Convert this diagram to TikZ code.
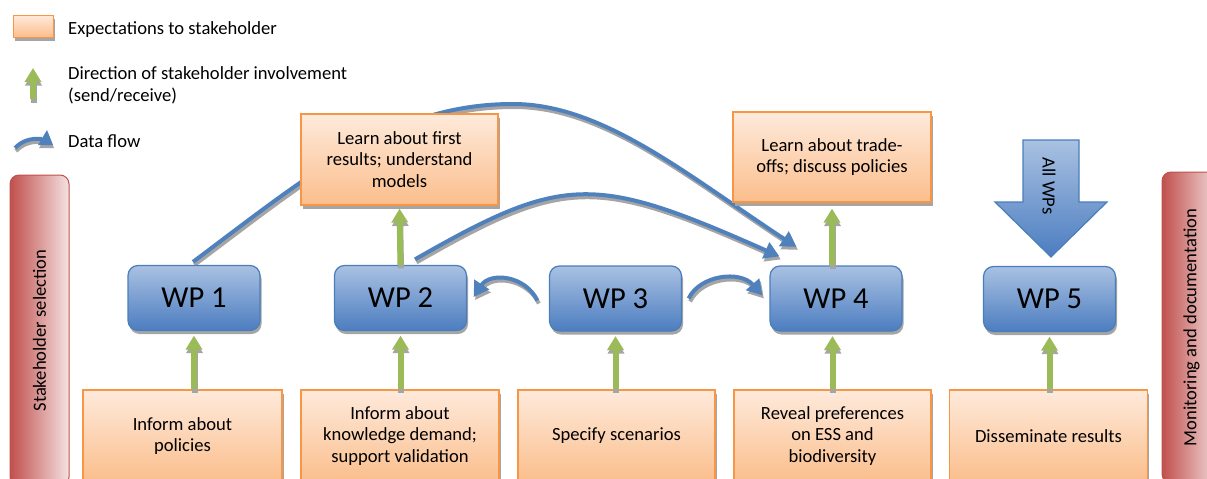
\documentclass[tikz,border=0pt]{standalone}
\usepackage{fontspec}
\setmainfont{Carlito}
\usepackage{graphicx}
\usetikzlibrary{arrows.meta,shadows,backgrounds}
\definecolor{obord}{HTML}{F79646}
\definecolor{otop}{HTML}{FEEADB}
\definecolor{obot}{HTML}{FBBE8C}
\definecolor{wtop}{HTML}{A9C1E2}
\definecolor{wbot}{HTML}{4C7DC0}
\definecolor{wbord}{HTML}{4A7EBB}
\definecolor{flowblue}{HTML}{4F81BD}
\definecolor{shgray}{HTML}{A5A5A5}
\definecolor{invgreen}{HTML}{9BBB59}
\definecolor{rleft}{HTML}{C0504D}
\definecolor{rright}{HTML}{F4E2E2}
\tikzset{
  txt/.style={font=\fontsize{18.6}{21.7}\selectfont},
  boxshadow/.style={drop shadow={shadow xshift=1.5pt,shadow yshift=-3.5pt,fill=shgray,opacity=1}},
  expbox/.style={draw=obord, line width=1.2pt, top color=otop, bottom color=obot,
    minimum width=197pt, minimum height=91pt, align=center, inner sep=2pt, txt, boxshadow},
  wpbox/.style={draw=wbord, line width=1.2pt, rounded corners=10pt, top color=wtop, bottom color=wbot,
    minimum width=132pt, minimum height=65pt, font=\fontsize{30.5}{36}\selectfont, boxshadow},
  sidebar/.style={draw=rleft, line width=1pt, rounded corners=9pt, left color=rleft, right color=rright,
    minimum width=59pt, minimum height=311pt, inner sep=0pt, txt},
  flow/.style={draw=flowblue, line width=4pt, -{Triangle[width=17pt,length=15pt]}},
  flowsh/.style={draw=shgray, line width=4pt, -{Triangle[width=17pt,length=15pt]},
    transform canvas={shift={(1.5pt,-3pt)}}},
  inv/.style={draw=invgreen, line width=6pt, -{Triangle[width=16pt,length=14pt]}},
  invsh/.style={draw=shgray, line width=6pt, -{Triangle[width=16pt,length=14pt]},
    transform canvas={shift={(0.5pt,-3.5pt)}}},
  bigarrow/.style={draw=wbord, line width=1.2pt, top color=wtop, bottom color=wbot},
}
\newcommand\flowpath[1]{\draw[flowsh] #1; \draw[flow] #1;}
\newcommand\invpath[1]{\draw[invsh] #1; \draw[inv] #1;}
\begin{document}
\begin{tikzpicture}[x=1pt,y=-1pt]
\useasboundingbox (0,0) rectangle (1207,479);
\clip (0,0) rectangle (1207,479);

% legend
\node[expbox, minimum width=40pt, minimum height=22pt, line width=1pt] (lb) at (33,26) {};
\node[txt, anchor=base west, inner sep=0pt] (lt1) at (68,34) {Expectations to stakeholder};
\invpath{(33,99) -- (33,68)}
\node[txt, anchor=west, align=left, inner sep=0pt] (lt2) at (68,85) {Direction of stakeholder involvement\\(send/receive)};
\draw[shgray, line width=4pt, transform canvas={shift={(1pt,-3pt)}}] (15,148) .. controls (22,141) and (30,138) .. (42,139);
\fill[shgray, transform canvas={shift={(1pt,-3pt)}}] (38,145) -- (53,145) -- (47,130) -- cycle;
\draw[flowblue, line width=4pt] (15,148) .. controls (22,141) and (30,138) .. (42,139);
\fill[flowblue] (38,145) -- (53,145) -- (47,130) -- cycle;
\node[txt, anchor=base west, inner sep=0pt] (lt3) at (68,147) {Data flow};

% side bars
\node[sidebar] (ssel) at (39.5,330.5) {\rotatebox{90}{Stakeholder selection}};
\node[sidebar] (mon) at (1191.5,327.5) {\rotatebox{90}{Monitoring and documentation}};

% work packages
\node[wpbox] (wp1) at (194,298) {WP 1};
\node[wpbox] (wp2) at (400.5,298) {WP 2};
\node[wpbox] (wp3) at (615.5,298.5) {WP 3};
\node[wpbox] (wp4) at (836,298.5) {WP 4};
\node[wpbox] (wp5) at (1049.5,299) {WP 5};

% expectation boxes
\node[expbox] (t2) at (399.5,159.5) {Learn about first\\results; understand\\models};
\node[expbox, minimum width=198pt, minimum height=90pt] (t4) at (832,157) {Learn about trade-\\offs; discuss policies};
\node[expbox, minimum width=199pt, minimum height=92pt] (b1) at (182.5,436) {Inform about\\policies};
\node[expbox, minimum width=198pt, minimum height=92pt] (b2) at (400,436) {Inform about\\knowledge demand;\\support validation};
\node[expbox, minimum width=197pt, minimum height=92pt] (b3) at (616.5,436) {Specify scenarios};
\node[expbox, minimum width=197pt, minimum height=92pt] (b4) at (832.5,436) {Reveal preferences\\on ESS and\\biodiversity};
\node[expbox, minimum width=198pt, minimum height=92pt] (b5) at (1048.5,436) {Disseminate results};

% All WPs arrow
\path[bigarrow] (1023,140) -- (1079,140) -- (1079,202) -- (1107,202) -- (1051,257) -- (995,202) -- (1023,202) -- cycle;
\node[txt, inner sep=0pt] (allwp) at (1049,186) {\rotatebox{-90}{All WPs}};

% data flows (behind)
\coordinate (f1s) at ([shift={(-1,-3)}]wp1.north);
\coordinate (f1e) at ([shift={(27,-18.5)}]wp4.north west);
\coordinate (f2s) at ([shift={(14.5,-5.5)}]wp2.north);
\coordinate (f2e) at ([shift={(10,-9)}]wp4.north west);
\coordinate (f3s) at ([shift={(-11.5,2)}]wp3.west);
\coordinate (f3e) at ([shift={(6.5,-1)}]wp2.east);
\coordinate (f4s) at ([shift={(6.5,0)}]wp3.east);
\coordinate (f4e) at ([shift={(-7,-3)}]wp4.west);
\begin{pgfonlayer}{background}
\flowpath{(f1s) .. controls (313,172) and (393,104) .. (513,104) .. controls (603,104) and (688,176) .. (f1e)}
\flowpath{(f2s) .. controls (564,174) and (594,174) .. (f2e)}
\flowpath{(f3s) .. controls (525,275) and (490,272) .. (f3e)}
\flowpath{(f4s) .. controls (700,275) and (740,270) .. (f4e)}
\end{pgfonlayer}

% stakeholder involvement
\invpath{(wp1.south |- b1.north) -- ([shift={(0,4.5)}]wp1.south)}
\invpath{(wp2.south |- b2.north) -- ([shift={(0,4.5)}]wp2.south)}
\invpath{(wp3.south |- b3.north) -- ([shift={(0,4.5)}]wp3.south)}
\invpath{(b4.north) -- ([shift={(0,4.5)}]b4.north |- wp4.south)}
\invpath{(wp5.south |- b5.north) -- ([shift={(0,4.5)}]wp5.south)}
\invpath{(wp2.north) -- ([shift={(0,3)}]t2.south)}
\invpath{(t4.south |- wp4.north) -- ([shift={(0,6)}]t4.south)}
\end{tikzpicture}
\end{document}
